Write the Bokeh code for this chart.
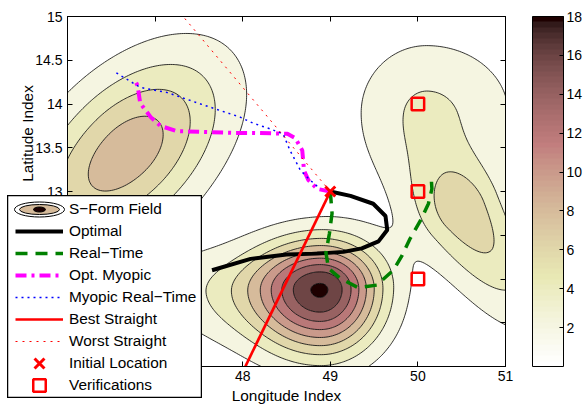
import numpy as np
from bokeh.plotting import figure
from bokeh.core.properties import value
from bokeh.models import (Range1d, LinearAxis, FixedTicker, CustomJSTickFormatter,
                          LinearColorMapper, ColorBar, Legend, LegendItem)
from bokeh.embed import file_html
from bokeh.resources import INLINE

FONT = "Liberation Sans"

# ---------------- data ----------------
x_ticks = [46, 47, 48, 49, 50, 51]
y_ticks = [11, 11.5, 12, 12.5, 13, 13.5, 14, 14.5, 15]
cbar_ticks = [2, 4, 6, 8, 10, 12, 14, 16, 18]
contour_levels = [2, 4, 6, 8, 10, 12, 14, 16, 18]
cbar_low, cbar_high = 0, 18

# S-form field described as a sum of (split, rotated) Gaussian bumps
bump_x0 = [48.90, 47.70, 46.68, 50.54, 50.10]
bump_y0 = [11.88, 11.85, 13.45, 12.74, 13.90]
bump_amp = [18.0, 3.0, 9.2, 6.6, 4.3]
bump_angle = [0.0, 0.0, 45.0, -56.5, 0.0]
bump_su_pos = [0.47, 0.55, 0.95, 1.00, 0.75]
bump_su_neg = [0.55, 0.55, 1.05, 0.465, 0.60]
bump_sv_pos = [0.39, 0.35, 0.55, 0.34, 0.62]
bump_sv_neg = [0.50, 0.42, 0.56, 0.38, 0.70]

optimal_x = [49.00, 49.23, 49.49, 49.63, 49.65, 49.55, 49.36, 49.15, 48.85, 48.50, 48.09, 47.65]
optimal_y = [13.00, 12.95, 12.86, 12.72, 12.56, 12.43, 12.35, 12.31, 12.29, 12.28, 12.23, 12.10]

realtime_x = [49.00, 49.02, 48.99, 48.95, 48.98, 49.11, 49.32, 49.53, 49.72, 49.82, 49.91, 50.03, 50.12, 50.16, 50.15]
realtime_y = [13.00, 12.75, 12.52, 12.30, 12.12, 12.01, 11.90, 11.93, 12.10, 12.27, 12.46, 12.67, 12.86, 13.03, 13.19]

optmyopic_x = [49.00, 48.85, 48.75, 48.70, 48.68, 48.60, 48.51, 48.14, 47.89, 47.25, 47.06, 46.95, 46.83, 46.80, 46.78]
optmyopic_y = [13.00, 13.03, 13.13, 13.24, 13.47, 13.61, 13.66, 13.67, 13.67, 13.69, 13.75, 13.85, 14.01, 14.21, 14.25]

myopicrt_x = [48.85, 48.77, 48.66, 48.54, 48.46, 48.30, 48.12, 47.97, 47.52, 47.14, 46.83, 46.55]
myopicrt_y = [13.06, 13.13, 13.24, 13.47, 13.66, 13.72, 13.78, 13.85, 14.00, 14.13, 14.19, 14.36]

best_x = [49.00, 48.03]
best_y = [13.00, 11.00]

worst_x = [49.00, 47.32]
worst_y = [13.00, 15.00]

init_x = [49.0]
init_y = [13.0]

verif_x = [50.0, 50.0, 50.0]
verif_y = [14.0, 13.0, 12.0]

legend_labels = ["S\u2212Form Field", "Optimal", "Real\u2212Time", "Opt. Myopic",
                 "Myopic Real\u2212Time", "Best Straight", "Worst Straight",
                 "Initial Location", "Verifications"]
x_title = "Longitude Index"
y_title = "Latitude Index"

# ---------------- field ----------------
gx = np.linspace(46, 51, 201)
gy = np.linspace(11, 15, 161)
GX, GY = np.meshgrid(gx, gy)
Z = np.zeros_like(GX)
for x0, y0, a, ang, sup, sun, svp, svn in zip(bump_x0, bump_y0, bump_amp, bump_angle,
                                              bump_su_pos, bump_su_neg, bump_sv_pos, bump_sv_neg):
    t = np.deg2rad(ang)
    dx = GX - x0
    dy = GY - y0
    u = dx * np.cos(t) + dy * np.sin(t)
    v = -dx * np.sin(t) + dy * np.cos(t)
    su = np.where(u >= 0, sup, sun)
    sv = np.where(v >= 0, svp, svn)
    Z += a * np.exp(-0.5 * ((u / su) ** 2 + (v / sv) ** 2))


def pink_map(m=64):
    n = int(np.fix(3 / 8 * m))
    r = np.concatenate([np.arange(1, n + 1) / n, np.ones(m - n)])
    g = np.concatenate([np.zeros(n), np.arange(1, n + 1) / n, np.ones(m - 2 * n)])
    b = np.concatenate([np.zeros(2 * n), np.arange(1, m - 2 * n + 1) / (m - 2 * n)])
    hot = np.stack([r, g, b], axis=1)
    gray = np.linspace(0, 1, m)[:, None]
    return np.sqrt((2 * gray + hot) / 3)


cmap = pink_map(64)[::-1]  # white (low) -> dark (high)
cmap_hex = ["#%02x%02x%02x" % tuple(int(round(c * 255)) for c in row) for row in cmap]


def level_color(val):
    idx = int((val - cbar_low) / (cbar_high - cbar_low) * len(cmap_hex))
    return cmap_hex[max(0, min(len(cmap_hex) - 1, idx))]


levels_all = list(contour_levels) + [float(Z.max()) + 0.01]
band_colors = [level_color(L) for L in contour_levels]

# ---------------- styles ----------------
STY = {
    "opt": dict(line_color="black", line_width=4),
    "rt": dict(line_color="#008000", line_width=3.5, line_dash="12 8"),
    "om": dict(line_color="#ff00ff", line_width=4, line_dash="11 5 3 5"),
    "mrt": dict(line_color="#0000ff", line_width=1.5, line_dash="2 4"),
    "best": dict(line_color="#ff0000", line_width=2.7),
    "worst": dict(line_color="#ff0000", line_width=1, line_dash="2 5"),
    "init": dict(marker="x", size=14, line_color="#ff0000", line_width=3),
    "ver": dict(marker="square", size=12.5, line_color="#ff0000", fill_color=None, line_width=2.5),
}

# ---------------- main figure ----------------
FRAME_L, FRAME_R, FRAME_T, FRAME_B = 67, 505, 16, 366
W, H = 584, 410
p = figure(width=W, height=H, x_range=Range1d(46, 51), y_range=Range1d(11, 15),
           output_backend="svg", toolbar_location=None,
           min_border_left=FRAME_L, min_border_right=W - FRAME_R,
           min_border_top=FRAME_T, min_border_bottom=H - FRAME_B)
p.xgrid.visible = False
p.ygrid.visible = False
p.outline_line_color = "black"
p.outline_line_width = 1
p.background_fill_color = "white"
p.border_fill_color = "white"

p.contour(gx, gy, Z, levels=levels_all, fill_color=band_colors,
          line_color="black", line_width=0.8)

p.line(optimal_x, optimal_y, **STY["opt"])
p.line(realtime_x, realtime_y, **STY["rt"])
p.line(optmyopic_x, optmyopic_y, **STY["om"])
p.line(myopicrt_x, myopicrt_y, **STY["mrt"])
p.line(best_x, best_y, **STY["best"])
p.line(worst_x, worst_y, **STY["worst"])
p.scatter(init_x, init_y, **STY["init"])
p.scatter(verif_x, verif_y, **STY["ver"])

fmt = CustomJSTickFormatter(code="return String(Math.round(tick*10)/10);")
for ax, ticks, sto in [(p.xaxis[0], x_ticks, 4), (p.yaxis[0], y_ticks, 5)]:
    ax.ticker = FixedTicker(ticks=ticks)
    ax.formatter = fmt
    ax.major_tick_in = 5
    ax.major_tick_out = 0
    ax.minor_tick_in = 0
    ax.minor_tick_out = 0
    ax.major_label_standoff = sto
    ax.major_label_text_font = FONT
    ax.major_label_text_font_size = "14px"
    ax.major_label_text_color = "black"
    ax.axis_line_color = "black"
    ax.major_tick_line_color = "black"

p.xaxis[0].axis_label = x_title
p.xaxis[0].axis_label_standoff = 3
p.xaxis[0].axis_label_text_font = FONT
p.xaxis[0].axis_label_text_font_size = "15.4px"
p.xaxis[0].axis_label_text_font_style = "normal"
p.xaxis[0].axis_label_text_color = "black"

for ticks, place in [(x_ticks, "above"), (y_ticks, "right")]:
    ax = LinearAxis(ticker=FixedTicker(ticks=ticks), major_label_text_font_size="1px",
                    major_label_text_color=None, major_label_standoff=0,
                    major_tick_in=5, major_tick_out=0,
                    minor_tick_in=0, minor_tick_out=0, axis_line_color="black",
                    major_tick_line_color="black")
    p.add_layout(ax, place)

mapper = LinearColorMapper(palette=cmap_hex, low=cbar_low, high=cbar_high)
cb = ColorBar(color_mapper=mapper, ticker=FixedTicker(ticks=cbar_ticks), width=31, height=350,
              location=(465, 0), padding=0, margin=0, label_standoff=3,
              major_label_text_font=FONT, major_label_text_font_size="14px",
              major_label_text_color="black",
              major_tick_in=4, major_tick_out=0, major_tick_line_color="black",
              minor_tick_line_color=None,
              bar_line_color="black", bar_line_width=1,
              border_line_color=None, background_fill_alpha=0)
p.add_layout(cb)


def overlay(w, h, left, top):
    f = figure(width=w, height=h, x_range=Range1d(0, w), y_range=Range1d(0, h),
               x_axis_type=None, y_axis_type=None, output_backend="svg",
               toolbar_location=None, min_border=0, min_border_left=0, min_border_right=0,
               min_border_top=0, min_border_bottom=0)
    f.grid.visible = False
    f.styles = {"position": "absolute", "left": "%dpx" % left, "top": "%dpx" % top}
    return f


# ---------------- y-axis title (overlay so it can sit above the axis centre) ----------------
yl = overlay(22, 112, 16, 77)
yl.background_fill_alpha = 0
yl.border_fill_alpha = 0
yl.outline_line_color = None
yl.text(x=[11], y=[56], text=[y_title], angle=np.pi / 2, text_align="center",
        text_baseline="middle", text_font=value(FONT), text_font_size="15.4px",
        text_color="black")

# ---------------- legend box (overlay that may extend beyond the axes) ----------------
LB_L, LB_T, LB_W, LB_H = 7, 195, 195, 203
lg = overlay(LB_W, LB_H, LB_L, LB_T)
lg.background_fill_color = "white"
lg.border_fill_color = "white"
lg.outline_line_color = "black"
lg.outline_line_width = 1.5

nan = [np.nan]
prox = [
    lg.line(nan, nan, line_alpha=0),
    lg.line(nan, nan, **STY["opt"]),
    lg.line(nan, nan, **STY["rt"]),
    lg.line(nan, nan, **STY["om"]),
    lg.line(nan, nan, **STY["mrt"]),
    lg.line(nan, nan, **STY["best"]),
    lg.line(nan, nan, **STY["worst"]),
    lg.line(nan, nan, line_alpha=0),
    lg.line(nan, nan, line_alpha=0),
]

ITEM_H = 22
FIRST_C = 14          # first item centre, px below the top of the box
GLYPH_X0, GLYPH_W = 8, 48
icon_cx = GLYPH_X0 + GLYPH_W / 2


def icon_y(i):
    return LB_H - (FIRST_C + i * ITEM_H)


# icons that the legend cannot draw at the original size
lg.ellipse(x=[icon_cx] * 3, y=[icon_y(0)] * 3, width=[50, 40, 12], height=[15, 10, 5],
           fill_color=["white", level_color(8), level_color(18)], line_color="black",
           line_width=1)
lg.scatter(x=[icon_cx], y=[icon_y(7)], **STY["init"])
lg.scatter(x=[icon_cx], y=[icon_y(8)], **STY["ver"])

n_items = len(legend_labels)
leg_top = FIRST_C - ITEM_H / 2
legend = Legend(items=[LegendItem(label=lab, renderers=[r]) for lab, r in zip(legend_labels, prox)],
                location=(GLYPH_X0, int(round(LB_H - leg_top - n_items * ITEM_H))),
                padding=0, spacing=0, margin=0,
                glyph_width=GLYPH_W, glyph_height=ITEM_H, label_height=ITEM_H, label_standoff=6,
                label_text_font=FONT, label_text_font_size="15.4px", label_text_color="black",
                border_line_color=None, background_fill_alpha=0)
lg.add_layout(legend)

open("out.html", "w").write(file_html([p, lg, yl], INLINE))
